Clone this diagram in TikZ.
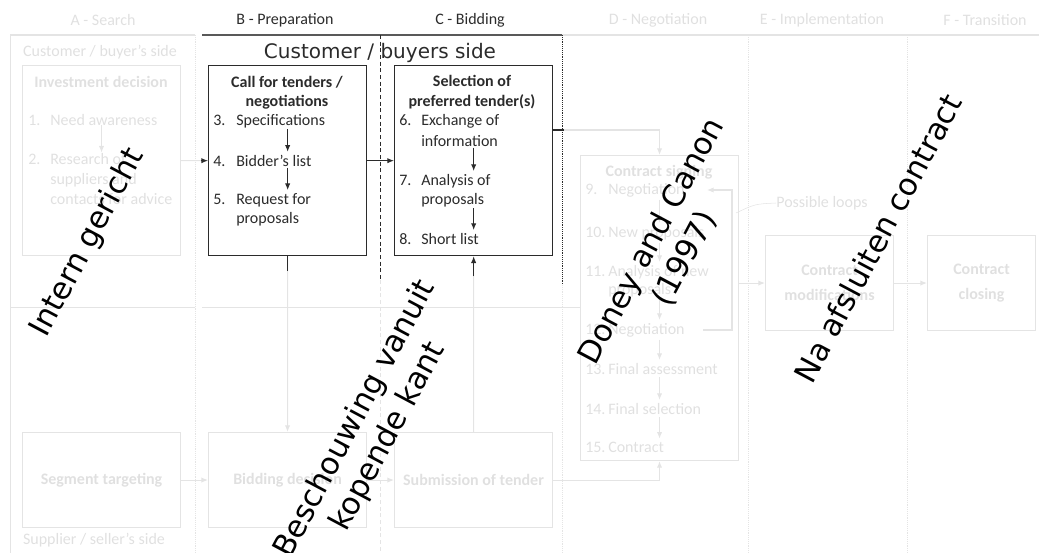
\documentclass[tikz,border=0pt]{standalone}
\usepackage{fontspec}
\setmainfont{Carlito}
\newfontfamily\verdana{DejaVu Sans}
\usetikzlibrary{positioning,arrows.meta}

\definecolor{ink}{HTML}{2B2B2B}
\definecolor{ghostline}{HTML}{E4E4E4}
\definecolor{ghosttext}{HTML}{E0E0E0}

\tikzstyle{every node}+=[inner sep=0pt,font=\fontsize{12}{14}\selectfont]
\tikzstyle{stage}=[text=ink]
\tikzstyle{ghoststage}=[text=ghosttext]
\tikzstyle{panel}=[draw=ink,line width=1pt,anchor=north west,minimum width=118.5pt,minimum height=142.5pt]
\tikzstyle{ghostpanel}=[draw=ghostline,line width=0.8pt,anchor=north west,minimum width=118.5pt,minimum height=71.25pt]
\tikzstyle{entry}=[anchor=base west,text=ink]
\tikzstyle{ghostentry}=[anchor=base west,text=ghosttext]
\tikzstyle{boxtitle}=[anchor=base,text=ink,font=\fontsize{12}{14}\selectfont\bfseries]
\tikzstyle{ghosttitle}=[text=ghosttext,font=\fontsize{12}{14}\selectfont\bfseries]
\tikzstyle{flow}=[draw=ink,line width=0.8pt,-{Latex[length=5pt,width=4pt]},shorten <=1pt,shorten >=2pt]
\tikzstyle{ghostflow}=[draw=ghostline,line width=0.8pt,-{Latex[length=5pt,width=4pt]}]
\tikzstyle{remark}=[text=black,font=\verdana\fontsize{23}{28}\selectfont,rotate=62,align=center]

\begin{document}
\begin{tikzpicture}[x=0.75pt,y=-0.75pt]
\useasboundingbox (0,0) rectangle (1039,553);

% stage headers
\node[ghoststage] (stA) at (103,20) {A - Search};
\node[stage] (stB) at (285,20) {B - Preparation};
\node[stage] (stC) at (470,20) {C - Bidding};
\node[ghoststage] (stD) at (658,20) {D - Negotiation};
\node[ghoststage] (stE) at (822,20) {E - Implementation};
\node[ghoststage] (stF) at (985,20) {F - Transition};

% grid
\draw[ghostline,line width=1.5pt] (10,35) -- (195,35);
\draw[ghostline,line width=1.5pt] (562,35) -- (1039,35);
\draw[black!65,line width=1.5pt] (202,35) -- (562,35);
\draw[ghostline] (10,35) -- (10,553);
\draw[ghostline,densely dotted] (195,35) -- (195,553);
\draw[ink,densely dashed] (380,35) -- (380,280);
\draw[ghostline,densely dashed] (380,280) -- (380,553);
\draw[ink,densely dotted] (562,35) -- (562,285);
\draw[ghostline,densely dotted] (562,285) -- (562,553);
\draw[ghostline,densely dotted] (748,35) -- (748,553);
\draw[ghostline,densely dotted] (907,35) -- (907,553);
\draw[ghostline] (10,307) -- (195,307);
\draw[ghostline] (202,307) -- (580,307);

\node[ghoststage] (buyerA) at (100,52) {Customer / buyer’s side};
\node[ghoststage] (sellerA) at (94,540) {Supplier / seller’s side};
\node[text=ink,font=\verdana\fontsize{15}{18}\selectfont] (buyerBC) at (380,53) {Customer / buyers side};

% panels
\node[panel] (callB) at (208,65) {};
\node[panel] (pickC) at (394,65) {};
\node[ghostpanel,minimum height=142.5pt] (investA) at (22,65) {};
\node[ghostpanel] (segmentA) at (22,432) {};
\node[ghostpanel] (biddingB) at (208,432) {};
\node[ghostpanel] (submitC) at (394,432) {};
\node[ghostpanel,minimum height=228.75pt] (signD) at (580,155) {};
\node[ghostpanel,minimum width=96pt] (modifyE) at (765,235) {};
\node[ghostpanel,minimum width=81pt] (closeF) at (927,235) {};

% call for tenders
\node[boxtitle] (callB1) at (287,87) {Call for tenders /};
\node[boxtitle] (callB2) at (287,106) {negotiations};
\node[entry] (n3) at (213,125) {3.};
\node[entry] (s3) at (236,125) {Specifications};
\node[entry] (n4) at (213,166) {4.};
\node[entry] (s4) at (236,166) {Bidder’s list};
\node[entry] (n5) at (213,204) {5.};
\node[entry] (s5) at (236,204) {Request for};
\node[entry] (s5b) at (236,223) {proposals};
\draw[flow] (callB.center |- s3.south) -- (callB.center |- s4.north);
\draw[flow] (callB.center |- s4.south) -- (callB.center |- s5.north);

% selection of preferred tenders
\node[boxtitle] (pickC1) at (472,86) {Selection of};
\node[boxtitle] (pickC2) at (472,106) {preferred tender(s)};
\node[entry] (n6) at (399,125) {6.};
\node[entry] (s6) at (421,125) {Exchange of};
\node[entry] (s6b) at (421,146) {information};
\node[entry] (n7) at (399,185) {7.};
\node[entry] (s7) at (421,185) {Analysis of};
\node[entry] (s7b) at (421,204) {proposals};
\node[entry] (n8) at (399,244) {8.};
\node[entry] (s8) at (421,244) {Short list};
\draw[flow] (pickC.center |- s6b.south) -- (pickC.center |- s7.north);
\draw[flow] (pickC.center |- s7b.south) -- (pickC.center |- s8.north);

% investment decision
\node[ghosttitle,anchor=base] (investA1) at (101,87) {Investment decision};
\node[ghostentry] (n1) at (28,125) {1.};
\node[ghostentry] (s1) at (50,125) {Need awareness};
\node[ghostentry] (n2) at (28,164) {2.};
\node[ghostentry] (s2) at (50,164) {Research of};
\node[ghostentry] (s2b) at (50,184) {suppliers and};
\node[ghostentry] (s2c) at (50,204) {contacts for advice};
\draw[ghostflow] (investA.center |- s1.south) -- (investA.center |- s2.north);

% supplier side
\node[ghosttitle] (segmentA1) at (segmentA.center) {Segment targeting};
\node[ghosttitle] (biddingB1) at (biddingB.center) {Bidding decision};
\node[ghosttitle] (submitC1) at (submitC.center) {Submission of tender};

% contract signing
\node[ghosttitle,anchor=base] (signD1) at (659,176) {Contract signing};
\node[ghostentry] (n9) at (585,194) {9.};
\node[ghostentry] (d9) at (608,194) {Negotiation};
\node[ghostentry] (n10) at (585,237) {10.};
\node[ghostentry] (d10) at (608,237) {New proposals};
\node[ghostentry] (n11) at (585,276) {11.};
\node[ghostentry] (d11) at (608,276) {Analysis of new};
\node[ghostentry] (d11b) at (608,294) {proposals};
\node[ghostentry] (n12) at (585,334) {12.};
\node[ghostentry] (d12) at (608,334) {Negotiation};
\node[ghostentry] (n13) at (585,374) {13.};
\node[ghostentry] (d13) at (608,374) {Final assessment};
\node[ghostentry] (n14) at (585,414) {14.};
\node[ghostentry] (d14) at (608,414) {Final selection};
\node[ghostentry] (n15) at (585,452) {15.};
\node[ghostentry] (d15) at (608,452) {Contract};
\foreach \a/\b in {d9/d10,d10/d11,d11b/d12,d12/d13,d13/d14,d14/d15}
  \draw[ghostflow,shorten <=2pt,shorten >=2pt] (signD.center |- \a.south) -- (signD.center |- \b.north);

\coordinate (loopIn) at (707,190);
\coordinate (loopTop) at (732,190);
\coordinate (loopBot) at (732,330);
\coordinate (loopOut) at (703,330);
\draw[ghostflow] (loopOut) -- (loopBot) -- (loopTop) -- (loopIn);
\node[ghoststage] (loops) at (822,203) {Possible loops};
\coordinate (loopFoot) at (736,213);
\draw[ghostline] (loopFoot) .. controls (755,204) .. (loops.west);

\node[ghosttitle,align=center,font=\fontsize{12}{19}\selectfont\bfseries] (modifyE1) at (modifyE.center) {Contract\\modifications};
\node[ghosttitle,align=center,font=\fontsize{12}{19}\selectfont\bfseries] (closeF1) at (closeF.center) {Contract\\closing};

% connectors
\draw[ghostline,line width=0.8pt] (investA.east) -- (callB.west);
\draw[flow,shorten <=0pt,shorten >=0pt] ([xshift=-5pt]callB.west) -- (callB.west);
\draw[flow,shorten <=0pt,shorten >=0pt] (callB.east) -- (pickC.west);
\draw[ghostflow] (callB.south) -- (biddingB.north);
\draw[ink,line width=0.8pt] (callB.south) -- ++(0,15);
\draw[ghostline,line width=0.8pt] (submitC.north) -- (pickC.south);
\draw[flow,shorten <=0pt,shorten >=0pt] ([yshift=-15pt]pickC.south) -- (pickC.south);
\draw[ghostflow] ([yshift=-48.75pt]pickC.north east) -| (signD.north);
\draw[ink,line width=0.8pt] ([yshift=-48.75pt]pickC.north east) -- ++(11,0);
\draw[ghostflow] (segmentA) -- (biddingB);
\draw[ghostflow] (biddingB) -- (submitC);
\draw[ghostflow] (submitC.east) -| (signD.south);
\draw[ghostflow] (signD.east |- modifyE.west) -- (modifyE.west);
\draw[ghostflow] (modifyE) -- (closeF);

% remarks
\node[remark] (intern) at (88,243) {Intern gericht};
\node[remark] (beschouwing) at (372,428) {Beschouwing vanuit\\kopende kant};
\node[remark] (doney) at (668,250) {Doney and Canon\\(1997)};
\node[remark] (afsluiten) at (878,238) {Na afsluiten contract};
\end{tikzpicture}
\end{document}
